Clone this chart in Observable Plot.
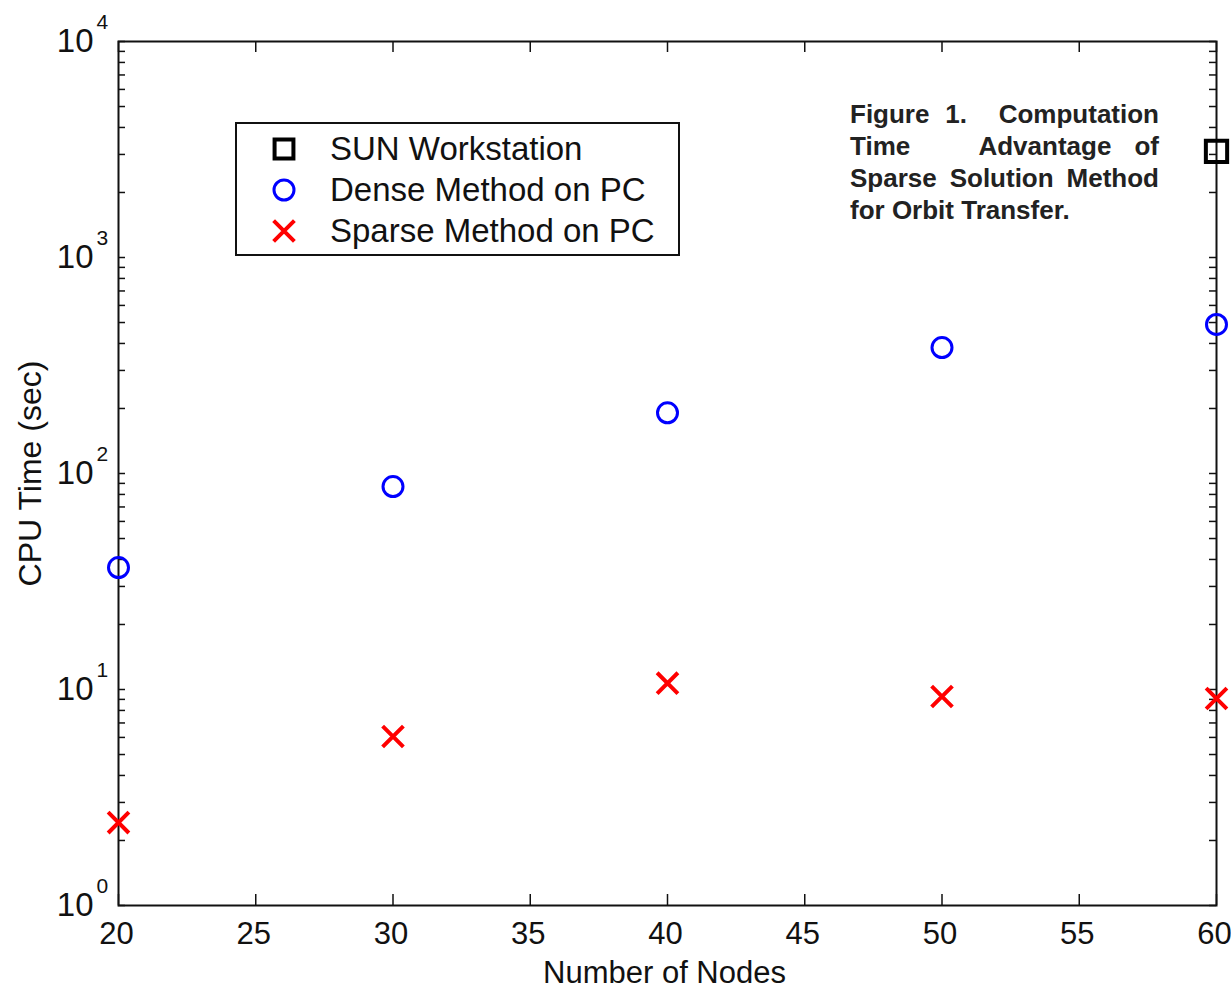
<!DOCTYPE html>
<html>
<head>
<meta charset="utf-8">
<script src="https://cdn.jsdelivr.net/npm/d3@7"></script>
<script src="https://cdn.jsdelivr.net/npm/@observablehq/plot@0.6"></script>
<style>
  html, body { margin: 0; padding: 0; background: #fff; }
  #wrap { position: relative; width: 1231px; height: 989px; overflow: hidden; font-family: "Liberation Sans", Arial, sans-serif; }
  #legend { position: absolute; left: 235px; top: 122px; width: 441px; height: 130px; border: 2px solid #111; background: #fff; }
  .row { position: absolute; left: 0; height: 40px; display: flex; align-items: center; }
  .row svg { position: absolute; left: 29px; }
  .row span { position: absolute; left: 93px; font-size: 33px; color: #111; white-space: nowrap; line-height: 40px; }
  #caption { position: absolute; left: 850px; top: 98px; width: 309px; font-family: "Liberation Sans", Arial, sans-serif; font-weight: bold; font-size: 26px; line-height: 32px; text-align: justify; color: #222; }
</style>
</head>
<body>
<div id="wrap">
  <div id="chart"></div>
  <div id="legend"></div>
  <div id="caption">Figure 1.&nbsp; Computation Time&nbsp;&nbsp; Advantage of Sparse Solution Method for Orbit Transfer.</div>
</div>
<script>
// ---- data ----
const nodes = [20, 30, 40, 50, 60];
const sunNodes = [60];
const sunTime = [3100];
const denseTime = [36.7, 87, 191, 383, 490];
const sparseTime = [2.42, 6.06, 10.7, 9.28, 9.09];
const xTicks = [20, 25, 30, 35, 40, 45, 50, 55, 60];
const yMajor = [1, 10, 100, 1000, 10000];
const yExponents = ["0", "1", "2", "3", "4"];
const seriesNames = ["SUN Workstation", "Dense Method on PC", "Sparse Method on PC"];
const xLabel = "Number of Nodes";
const yLabel = "CPU Time (sec)";

// minor log ticks 1..9 in each decade
const yTicks = [];
for (let e = 0; e < 4; e++) for (let m = 1; m <= 9; m++) yTicks.push(m * Math.pow(10, e));
yTicks.push(10000);

const sun = sunNodes.map((x, i) => ({x, y: sunTime[i]}));
const dense = nodes.map((x, i) => ({x, y: denseTime[i]}));
const sparse = nodes.map((x, i) => ({x, y: sparseTime[i]}));
const yLab = yMajor.map((v, i) => ({v, e: yExponents[i]}));

const W = 1231, H = 989, mL = 118, mR = 15, mT = 41, mB = 84;
const plotW = W - mL - mR, plotH = H - mT - mB;
const font = "Liberation Sans, Arial, sans-serif";

const chart = Plot.plot({
  width: W, height: H,
  marginLeft: mL, marginRight: mR, marginTop: mT, marginBottom: mB,
  style: {fontFamily: font, background: "#fff", color: "#111"},
  x: {domain: [20, 60], axis: null},
  y: {type: "log", domain: [1, 10000], axis: null},
  marks: [
    // ticks (inward)
    Plot.ruleX(xTicks, {x: d => d, insetTop: plotH - 11, stroke: "#111", strokeWidth: 1.5}),
    Plot.ruleX(xTicks, {x: d => d, insetBottom: plotH - 11, stroke: "#111", strokeWidth: 1.5}),
    Plot.ruleY(yTicks, {y: d => d, insetRight: plotW - 7, stroke: "#111", strokeWidth: 1.5}),
    Plot.ruleY(yTicks, {y: d => d, insetLeft: plotW - 7, stroke: "#111", strokeWidth: 1.5}),
    Plot.frame({stroke: "#111", strokeWidth: 2}),
    // tick labels
    Plot.text(xTicks, {x: d => d, frameAnchor: "bottom", lineAnchor: "middle", dx: -2, dy: 29, text: d => String(d), fontSize: 31, fill: "#111"}),
    Plot.text(yLab, {y: "v", frameAnchor: "left", dx: -25, textAnchor: "end", text: () => "10", fontSize: 33, fill: "#111"}),
    Plot.text(yLab, {y: "v", frameAnchor: "left", dx: -22, dy: -19, textAnchor: "start", text: "e", fontSize: 21, fill: "#111"}),
    // axis labels
    Plot.text([xLabel], {frameAnchor: "bottom", lineAnchor: "middle", dx: -3, dy: 68, text: d => d, fontSize: 31, fill: "#111"}),
    Plot.text([yLabel], {frameAnchor: "left", textAnchor: "middle", dx: -88, rotate: -90, text: d => d, fontSize: 32, fill: "#111"}),
    // data
    Plot.dot(sparse, {x: "x", y: "y", symbol: "times", r: 9.5, stroke: "#ff0000", strokeWidth: 4}),
    Plot.dot(dense, {x: "x", y: "y", symbol: "circle", r: 10, stroke: "#0000ff", strokeWidth: 3, fill: "none"}),
    Plot.dot(sun, {x: "x", y: "y", symbol: "square", r: 12, stroke: "#000", strokeWidth: 4, fill: "none"})
  ]
});
document.getElementById("chart").appendChild(chart);

// ---- legend ----
const legend = d3.select("#legend");
const legendSymbols = [
  {sym: d3.symbolSquare2, r: 12, stroke: "#000", sw: 4},
  {sym: d3.symbolCircle, r: 10, stroke: "#0000ff", sw: 3},
  {sym: d3.symbolTimes, r: 9.5, stroke: "#ff0000", sw: 4}
];
seriesNames.forEach((name, i) => {
  const row = legend.append("div").attr("class", "row").style("top", (5 + i * 41) + "px");
  const s = legendSymbols[i];
  const svg = row.append("svg").attr("width", 36).attr("height", 40);
  svg.append("path")
    .attr("transform", "translate(18,20)")
    .attr("d", d3.symbol(s.sym, Math.PI * s.r * s.r)())
    .attr("fill", "none").attr("stroke", s.stroke).attr("stroke-width", s.sw);
  row.append("span").text(name);
});
</script>
</body>
</html>
